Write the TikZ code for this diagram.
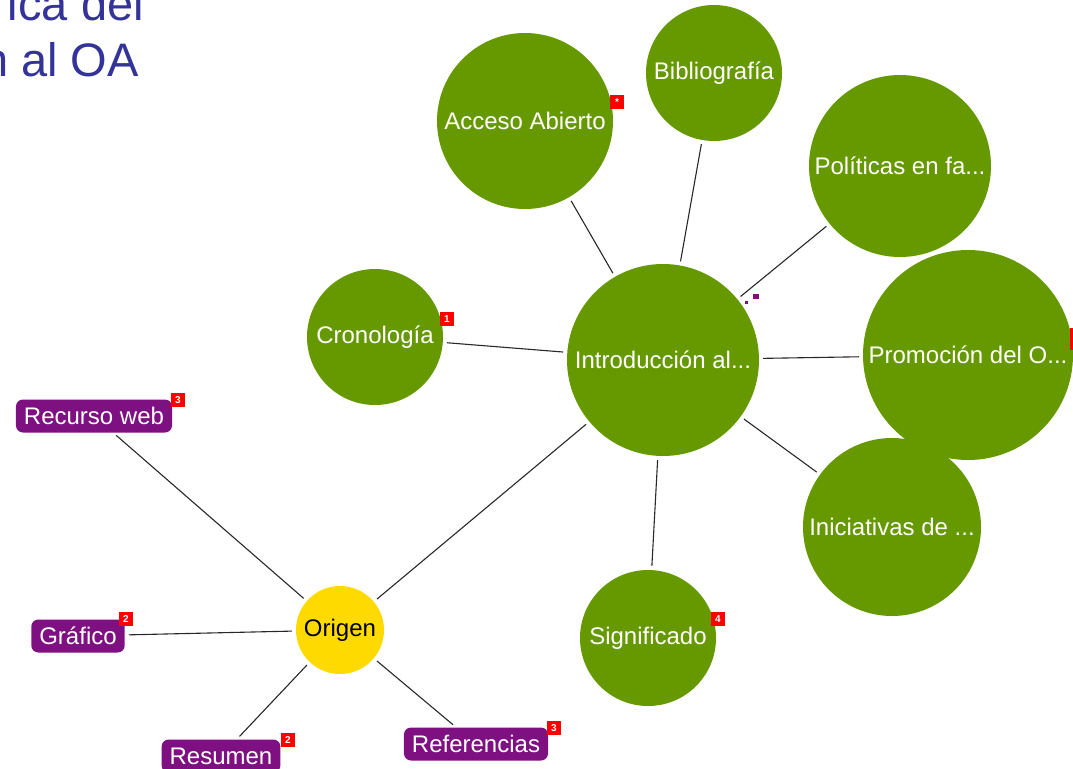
\documentclass[tikz,border=0pt]{standalone}
\usepackage{fontspec}
\setmainfont{Liberation Sans}
\begin{document}
\begin{tikzpicture}[x=1pt,y=-1pt,
  gcirc/.style={circle,fill=mgreen,text=white,inner sep=0pt,font=\fontsize{24}{24}\selectfont},
  ycirc/.style={circle,fill=myellow,text=black,inner sep=0pt,minimum size=88pt,font=\fontsize{24}{24}\selectfont},
  plabel/.style={rounded corners=7pt,fill=mpurple,text=white,inner xsep=8pt,minimum height=33pt,font=\fontsize{24}{24}\selectfont},
  badge/.style={fill=red,text=white,inner sep=0pt,minimum size=14pt,font=\fontsize{10}{10}\selectfont\bfseries},
  conn/.style={draw=mline,line width=1.1pt,shorten <=4pt,shorten >=4pt},
  title/.style={text=mtitle,font=\fontsize{47}{47}\selectfont,inner sep=0pt}]
\definecolor{mgreen}{RGB}{102,153,0}
\definecolor{myellow}{RGB}{255,218,0}
\definecolor{mpurple}{RGB}{126,16,130}
\definecolor{mline}{RGB}{40,40,40}
\definecolor{mtitle}{RGB}{51,51,153}
\useasboundingbox (0,0) rectangle (1073,768);
\fill[white] (0,0) rectangle (1073,768);
% title
\node[title,anchor=base east] (t1) at (144,21) {ica del};
\node[title,anchor=base east] (t2) at (139,77) {n al OA};
% circles
\node[gcirc,minimum size=176pt] (acc) at (525,121) {Acceso Abierto};
\node[gcirc,minimum size=136pt] (bib) at (714,73) {Bibliografía};
\node[gcirc,minimum size=182pt] (pol) at (900,166) {Políticas en fa...};
\node[gcirc,minimum size=210pt] (pro) at (968,355) {Promoción del O...};
\node[gcirc,minimum size=192pt] (int) at (663,360) {Introducción al...};
\node[gcirc,minimum size=136pt] (cro) at (375,337) {Cronología};
\node[gcirc,minimum size=178pt] (ini) at (892,527) {Iniciativas de ...};
\node[gcirc,minimum size=136pt] (sig) at (648,638) {Significado};
\node[ycirc] (ori) at (340,630) {Origen};
% purple labels
\node[plabel] (rec) at (94,416) {Recurso web};
\node[plabel] (gra) at (78,636) {Gráfico};
\node[plabel] (res) at (221,756) {Resumen};
\node[plabel] (ref) at (476,744) {Referencias};
% connectors
\draw[conn] (acc) -- (int);
\draw[conn] (bib) -- (int);
\draw[conn] (pol) -- (int);
\draw[conn] (pro) -- (int);
\draw[conn] (cro) -- (int);
\draw[conn] (ini) -- (int);
\draw[conn] (sig) -- (int);
\draw[conn] (ori) -- (int);
\draw[conn] (rec) -- (ori);
\draw[conn] (gra) -- (ori);
\draw[conn] (res) -- (ori);
\draw[conn] (ref) -- (ori);
% badges
\node[badge] (bacc) at (617,102) {*};
\node[badge] (bcro) at (447,319) {1};
\node[badge] (brec) at (178,400) {3};
\node[badge] (bgra) at (126,619) {2};
\node[badge] (bres) at (288,740) {2};
\node[badge] (bref) at (554,728) {3};
\node[badge] (bsig) at (718,619) {4};
\node[badge,minimum width=6pt,minimum height=22pt] (bpro) at (1073,339) {};
% small marker
\fill[mpurple] (753,294) rectangle (759,299);
\fill[mpurple] (745,301) rectangle (748,304);
\end{tikzpicture}
\end{document}
